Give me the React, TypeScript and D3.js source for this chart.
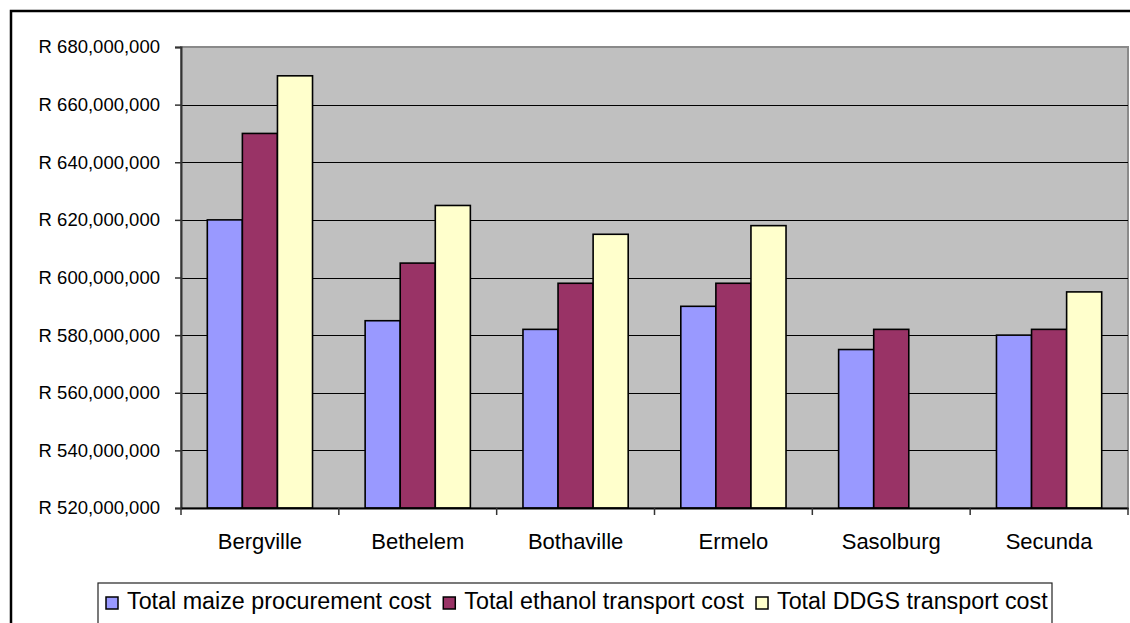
import React, { useEffect, useRef } from 'react';
import * as d3 from 'd3';

const categories = ['Bergville', 'Bethelem', 'Bothaville', 'Ermelo', 'Sasolburg', 'Secunda'];
const seriesNames = ['Total maize procurement cost', 'Total ethanol transport cost', 'Total DDGS transport cost'];
const seriesColors = ['#9999FF', '#993366', '#FFFFCC'];

// values in Rand
const maizeCost = [620000000, 585000000, 582000000, 590000000, 575000000, 580000000];
const ethanolCost = [650000000, 605000000, 598000000, 598000000, 582000000, 582000000];
const ddgsCost = [670000000, 625000000, 615000000, 618000000, null, 595000000];

const yTicks = [520000000, 540000000, 560000000, 580000000, 600000000, 620000000, 640000000, 660000000, 680000000];

const FONT = '"Liberation Sans", Arial, sans-serif';

function App() {
  const ref = useRef<SVGSVGElement | null>(null);

  useEffect(() => {
    const svg = d3.select(ref.current);
    svg.selectAll('*').remove();

    const left = 181, right = 1128, top = 47, bottom = 508;
    const series = [maizeCost, ethanolCost, ddgsCost];

    const y = d3.scaleLinear()
      .domain([yTicks[0], yTicks[yTicks.length - 1]])
      .range([bottom, top]);

    const x0 = d3.scaleBand<string>()
      .domain(categories)
      .range([left, right])
      .paddingInner(0)
      .paddingOuter(0);

    // excel style gap width 150%
    const x1 = d3.scaleBand<string>()
      .domain(seriesNames)
      .range([0, x0.bandwidth()])
      .paddingInner(0)
      .paddingOuter(0.75);

    // outer chart frame (runs off the picture at right / bottom)
    svg.append('rect')
      .attr('x', 11).attr('y', 11)
      .attr('width', 1200).attr('height', 700)
      .attr('fill', 'white')
      .attr('stroke', '#000')
      .attr('stroke-width', 2.5);

    // plot area
    svg.append('rect')
      .attr('x', left).attr('y', top)
      .attr('width', right - left).attr('height', bottom - top)
      .attr('fill', '#C0C0C0')
      .attr('stroke', '#8a8a8a')
      .attr('stroke-width', 2);

    // gridlines
    svg.append('g')
      .selectAll('line')
      .data(yTicks.slice(1, -1))
      .enter()
      .append('line')
      .attr('x1', left).attr('x2', right)
      .attr('y1', d => Math.round(y(d)) + 0.5)
      .attr('y2', d => Math.round(y(d)) + 0.5)
      .attr('stroke', '#000')
      .attr('stroke-width', 1);

    // bars
    series.forEach((vals, si) => {
      svg.append('g')
        .selectAll('rect')
        .data(vals.map((v, i) => ({ cat: categories[i], v })).filter(d => d.v != null))
        .enter()
        .append('rect')
        .attr('x', d => (x0(d.cat) as number) + (x1(seriesNames[si]) as number))
        .attr('y', d => y(d.v as number))
        .attr('width', x1.bandwidth())
        .attr('height', d => bottom - y(d.v as number))
        .attr('fill', seriesColors[si])
        .attr('stroke', '#000')
        .attr('stroke-width', 1.6);
    });

    // y axis
    const yAxis = d3.axisLeft(y)
      .tickValues(yTicks)
      .tickSize(6)
      .tickPadding(15)
      .tickFormat(d => 'R ' + d3.format(',')(d as number));

    const gy = svg.append('g')
      .attr('transform', `translate(${left}, 0)`)
      .call(yAxis);
    gy.select('.domain').attr('stroke', '#333').attr('stroke-width', 2);
    gy.selectAll('.tick line').attr('stroke', '#333').attr('stroke-width', 1.5);
    gy.selectAll('.tick text')
      .attr('fill', '#000')
      .style('font-family', FONT)
      .style('font-size', '18.5px');

    // x axis
    const xAxis = d3.axisBottom(x0).tickSize(0).tickFormat(() => '');
    const gx = svg.append('g')
      .attr('transform', `translate(0, ${bottom})`)
      .call(xAxis);
    gx.select('.domain').attr('stroke', '#000').attr('stroke-width', 2);

    svg.append('g')
      .selectAll('line')
      .data(categories.map(c => x0(c) as number).concat([right]))
      .enter()
      .append('line')
      .attr('x1', d => d).attr('x2', d => d)
      .attr('y1', bottom).attr('y2', bottom + 7)
      .attr('stroke', '#333')
      .attr('stroke-width', 1.5);

    svg.append('g')
      .selectAll('text')
      .data(categories)
      .enter()
      .append('text')
      .attr('x', d => (x0(d) as number) + x0.bandwidth() / 2)
      .attr('y', 549)
      .attr('text-anchor', 'middle')
      .style('font-family', FONT)
      .style('font-size', '22px')
      .text(d => d);

    // legend
    svg.append('rect')
      .attr('x', 98).attr('y', 583)
      .attr('width', 954).attr('height', 80)
      .attr('fill', 'white')
      .attr('stroke', '#222')
      .attr('stroke-width', 1.2);

    let lx = 106;
    seriesNames.forEach((name, i) => {
      svg.append('rect')
        .attr('x', lx).attr('y', 597)
        .attr('width', 12).attr('height', 12)
        .attr('fill', seriesColors[i])
        .attr('stroke', '#000')
        .attr('stroke-width', 1.5);
      const t = svg.append('text')
        .attr('x', lx + 21)
        .attr('y', 609)
        .style('font-family', FONT)
        .style('font-size', '23.3px')
        .text(name);
      const w = (t.node() as SVGTextElement).getComputedTextLength();
      lx = lx + 21 + w + 12;
    });
  }, []);

  return (
    <div style={{ position: 'fixed', left: 0, top: 0 }}>
      <svg ref={ref} width={1130} height={623} style={{ display: 'block' }} />
    </div>
  );
}

export default App;
